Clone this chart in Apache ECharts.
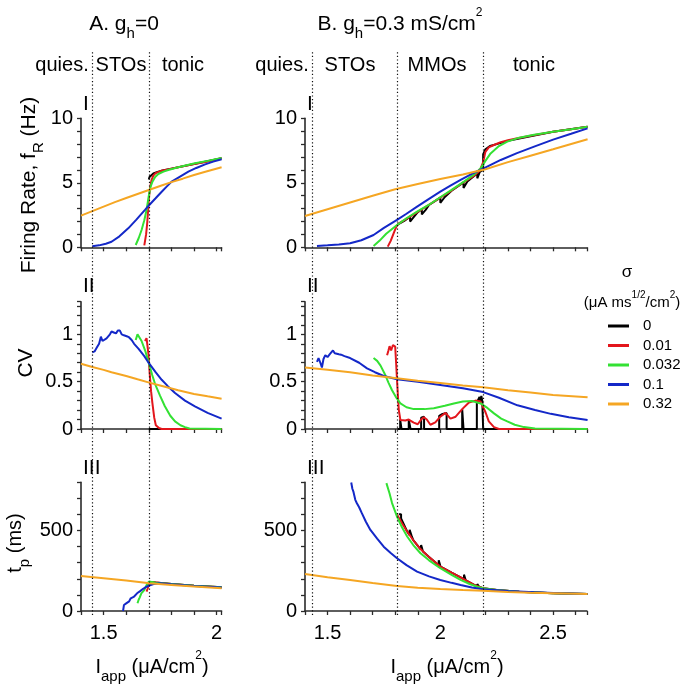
<!DOCTYPE html>
<html><head><meta charset="utf-8">
<script src="https://cdn.jsdelivr.net/npm/echarts@6/dist/echarts.min.js"></script>
<style>html,body{margin:0;padding:0;background:#fff}#c{width:687px;height:688px}</style>
</head><body><div id="c"></div><script>
// ---------- legend / series names ----------
const sigmaLabels = ['0', '0.01', '0.032', '0.1', '0.32'];

// ---------- tick labels (values shown) and tick steps ----------
const xLabelsA = [1.5, 2];
const xLabelsB = [1.5, 2, 2.5];
const yLabelsFR = [0, 5, 10];
const yLabelsCV = [0, 0.5, 1];
const yLabelsTP = [0, 500];
const xTickStep = 0.1;
const yTickStepFR = 1, yTickStepCV = 0.1, yTickStepTP = 100;

// regime boundaries (dotted lines)
const boundsA = [1.447, 1.702];
const boundsB = [1.425, 1.808, 2.19];

// ---------- A (g_h = 0) : I firing rate ----------
const A1_black = [[1.700,5.25],[1.703,5.45],[1.71,5.6],[1.72,5.72],[1.735,5.82],[1.76,5.95],[1.8,6.1],[1.9,6.45],[2.022,6.9]];
const A1_red = [[1.680,0.15],[1.688,1.0],[1.693,1.9],[1.697,2.9],[1.701,3.9],[1.706,4.7],[1.712,5.2],[1.72,5.55],[1.73,5.75],[1.757,5.94],[1.8,6.1],[1.83,6.2],[1.9,6.45],[1.95,6.62],[2.022,6.9]];
const A1_green = [[1.642,0.18],[1.655,0.7],[1.668,1.34],[1.68,2.1],[1.69,2.89],[1.70,4.0],[1.708,4.7],[1.716,5.09],[1.728,5.45],[1.742,5.68],[1.765,5.87],[1.786,5.99],[1.83,6.2],[1.904,6.51],[1.96,6.7],[2.022,6.92]];
const A1_blue = [[1.45,0.08],[1.48,0.15],[1.51,0.28],[1.535,0.43],[1.57,0.85],[1.609,1.47],[1.645,2.15],[1.683,2.9],[1.702,3.28],[1.73,3.8],[1.757,4.31],[1.78,4.72],[1.801,5.09],[1.84,5.5],[1.875,5.86],[1.91,6.15],[1.949,6.43],[1.985,6.64],[2.022,6.82]];
const A1_orange = [[1.4,2.45],[1.45,2.8],[1.5,3.15],[1.55,3.5],[1.6,3.82],[1.65,4.13],[1.7,4.44],[1.75,4.75],[1.8,5.05],[1.85,5.32],[1.9,5.6],[1.95,5.85],[2.022,6.2]];

// ---------- A : II CV ----------
const A2_black = [[1.70,0],[2.022,0]];
const A2_red = [[1.683,0.93],[1.69,0.96],[1.694,0.88],[1.698,0.8],[1.705,0.55],[1.71,0.4],[1.716,0.27],[1.724,0.12],[1.731,0.04],[1.745,0.01],[1.757,0],[2.022,0]];
const A2_green = [[1.642,0.94],[1.65,1.0],[1.658,0.97],[1.668,0.93],[1.685,0.82],[1.702,0.68],[1.715,0.57],[1.727,0.48],[1.75,0.35],[1.771,0.24],[1.795,0.14],[1.816,0.08],[1.84,0.04],[1.86,0.02],[1.88,0.005],[2.022,0]];
const A2_blue = [[1.45,0.81],[1.46,0.82],[1.47,0.86],[1.48,0.9],[1.488,0.975],[1.495,0.93],[1.503,0.92],[1.513,0.958],[1.52,0.97],[1.528,1.0],[1.535,1.03],[1.545,1.02],[1.555,1.01],[1.563,1.04],[1.572,1.04],[1.58,1.0],[1.59,0.99],[1.602,0.98],[1.612,0.97],[1.624,0.94],[1.635,0.9],[1.654,0.85],[1.68,0.77],[1.702,0.69],[1.73,0.6],[1.757,0.52],[1.785,0.45],[1.816,0.38],[1.86,0.3],[1.904,0.24],[1.96,0.17],[2.022,0.11]];
const A2_orange = [[1.4,0.69],[1.45,0.655],[1.5,0.625],[1.535,0.6],[1.6,0.56],[1.65,0.525],[1.702,0.49],[1.75,0.46],[1.83,0.41],[1.9,0.37],[1.96,0.345],[2.022,0.32]];

// ---------- A : III t_p ----------
const A3_black = [[1.70,150],[1.70,182],[1.71,180],[1.73,177],[1.8,168],[1.9,157],[2.022,147]];
const A3_red = [[1.69,120],[1.695,140],[1.70,168],[1.71,178],[1.73,177],[1.8,168],[1.9,157],[2.022,147]];
const A3_green = [[1.65,48],[1.655,70],[1.66,85],[1.667,110],[1.672,105],[1.68,130],[1.69,161],[1.7,182],[1.715,180],[1.73,176],[1.8,168],[1.9,157],[2.022,147]];
const A3_blue = [[1.586,0],[1.59,37],[1.595,30],[1.6,47],[1.607,40],[1.613,60],[1.62,79],[1.628,75],[1.635,90],[1.648,110],[1.66,122],[1.675,138],[1.69,151],[1.705,160],[1.721,168],[1.75,172],[1.8,166],[1.9,156],[2.022,146]];
const A3_orange = [[1.4,218],[1.5,204],[1.6,190],[1.703,172],[1.8,162],[1.9,152],[2.022,141]];

// ---------- B (g_h = 0.3) : I firing rate ----------
const B1_black = [[1.81,1.75],[1.84,2.05],[1.866,2.38],[1.866,2.0],[1.88,2.3],[1.9,2.72],[1.918,2.95],[1.918,2.55],[1.935,2.9],[1.95,3.28],[2.0,3.85],[2.0,3.45],[2.02,3.9],[2.05,4.38],[2.103,5.03],[2.103,4.6],[2.12,5.1],[2.15,5.52],[2.164,5.75],[2.164,5.35],[2.175,5.85],[2.19,6.0],[2.19,7.2],[2.2,7.6],[2.22,7.85],[2.25,8.0],[2.3,8.25],[2.4,8.6],[2.5,8.95],[2.653,9.35]];
const B1_red = [[1.767,0.05],[1.78,0.5],[1.793,1.08],[1.805,1.6],[1.816,1.86],[1.85,2.2],[1.9,2.75],[1.95,3.3],[2.0,3.85],[2.05,4.4],[2.1,5.0],[2.15,5.55],[2.175,5.95],[2.19,6.6],[2.2,7.4],[2.215,7.75],[2.24,7.95],[2.268,8.15],[2.3,8.3],[2.342,8.45],[2.4,8.65],[2.5,8.95],[2.58,9.15],[2.653,9.35]];
const B1_green = [[1.704,0.1],[1.73,0.5],[1.76,1.05],[1.808,1.73],[1.85,2.25],[1.897,2.76],[1.95,3.3],[2.0,3.88],[2.05,4.45],[2.105,5.09],[2.15,5.65],[2.179,6.12],[2.2,6.7],[2.223,7.28],[2.26,7.85],[2.297,8.19],[2.35,8.5],[2.416,8.72],[2.5,8.95],[2.58,9.15],[2.653,9.35]];
const B1_blue = [[1.453,0.1],[1.5,0.15],[1.55,0.22],[1.6,0.31],[1.65,0.55],[1.704,0.95],[1.75,1.5],[1.808,2.12],[1.85,2.6],[1.897,3.15],[1.95,3.75],[2.0,4.31],[2.045,4.78],[2.09,5.22],[2.14,5.7],[2.19,6.1],[2.23,6.45],[2.268,6.77],[2.34,7.3],[2.416,7.8],[2.5,8.35],[2.58,8.8],[2.653,9.22]];
const B1_orange = [[1.4,2.43],[1.5,2.95],[1.6,3.47],[1.7,3.99],[1.8,4.5],[1.9,4.9],[2.0,5.3],[2.1,5.65],[2.2,6.05],[2.3,6.6],[2.4,7.1],[2.5,7.6],[2.653,8.37]];

// ---------- B : II CV ----------
const B2_black = [[1.81,0],[1.822,0],[1.822,0.1],[1.828,0.1],[1.828,0],[1.86,0],[1.86,0.1],[1.868,0.11],[1.868,0],[1.915,0],[1.915,0.12],[1.928,0.13],[1.928,0],[1.995,0],[1.995,0.14],[2.01,0.16],[2.028,0.17],[2.028,0],[2.097,0],[2.097,0.21],[2.103,0.21],[2.103,0],[2.162,0],[2.162,0.28],[2.168,0.3],[2.174,0.34],[2.178,0.29],[2.182,0.35],[2.186,0.3],[2.19,0.28],[2.19,0],[2.653,0]];
const B2_red = [[1.764,0.78],[1.77,0.83],[1.775,0.875],[1.782,0.83],[1.79,0.887],[1.8,0.87],[1.804,0.7],[1.808,0.52],[1.812,0.35],[1.816,0.2],[1.823,0.095],[1.845,0.09],[1.86,0.1],[1.882,0.067],[1.9,0.05],[1.915,0.1],[1.927,0.124],[1.94,0.1],[1.956,0.045],[1.978,0.07],[2.0,0.13],[2.023,0.17],[2.045,0.11],[2.068,0.13],[2.097,0.21],[2.127,0.28],[2.156,0.3],[2.178,0.29],[2.2,0.18],[2.215,0.08],[2.238,0.02],[2.26,0],[2.653,0]];
const B2_green = [[1.704,0.75],[1.72,0.72],[1.735,0.67],[1.756,0.57],[1.77,0.49],[1.786,0.41],[1.805,0.33],[1.823,0.27],[1.85,0.23],[1.882,0.21],[1.93,0.21],[1.971,0.22],[2.02,0.245],[2.06,0.27],[2.1,0.29],[2.14,0.295],[2.179,0.27],[2.21,0.22],[2.238,0.165],[2.27,0.11],[2.297,0.08],[2.33,0.045],[2.371,0.02],[2.42,0.005],[2.653,0]];
const B2_blue = [[1.453,0.71],[1.46,0.75],[1.468,0.7],[1.475,0.65],[1.482,0.74],[1.49,0.78],[1.5,0.76],[1.51,0.79],[1.518,0.81],[1.524,0.83],[1.532,0.8],[1.54,0.81],[1.55,0.79],[1.56,0.785],[1.575,0.77],[1.6,0.75],[1.64,0.7],[1.675,0.64],[1.71,0.6],[1.749,0.56],[1.808,0.525],[1.9,0.5],[2.0,0.465],[2.1,0.43],[2.19,0.39],[2.26,0.33],[2.342,0.25],[2.42,0.2],[2.49,0.16],[2.57,0.125],[2.653,0.095]];
const B2_orange = [[1.4,0.65],[1.5,0.625],[1.6,0.6],[1.7,0.565],[1.808,0.535],[1.9,0.51],[2.0,0.485],[2.1,0.46],[2.19,0.44],[2.3,0.41],[2.4,0.385],[2.5,0.36],[2.653,0.335]];

// ---------- B : III t_p ----------
const B3_black = [[1.816,602],[1.826,602],[1.826,575],[1.853,494],[1.864,472],[1.864,505],[1.872,505],[1.872,470],[1.88,440],[1.912,385],[1.915,381],[1.915,410],[1.923,410],[1.923,370],[1.95,335],[1.993,284],[1.993,315],[2.001,315],[2.001,276],[2.05,238],[2.09,209],[2.105,197],[2.105,226],[2.113,226],[2.113,190],[2.15,162],[2.164,153],[2.164,168],[2.172,168],[2.172,150],[2.19,142],[2.25,130],[2.35,120],[2.5,111],[2.653,106]];
const B3_red = [[1.808,600],[1.83,545],[1.853,494],[1.88,440],[1.912,385],[1.95,335],[2.0,276],[2.05,238],[2.09,209],[2.12,185],[2.15,162],[2.19,142],[2.25,130],[2.35,120],[2.5,111],[2.653,106]];
const B3_green = [[1.761,795],[1.775,730],[1.786,671],[1.808,587],[1.83,520],[1.853,463],[1.88,410],[1.912,359],[1.95,315],[2.0,266],[2.05,225],[2.09,193],[2.13,168],[2.164,151],[2.19,141],[2.25,130],[2.35,120],[2.5,111],[2.653,106]];
const B3_blue = [[1.605,799],[1.61,760],[1.615,740],[1.623,691],[1.63,670],[1.64,645],[1.652,608],[1.67,555],[1.69,504],[1.72,450],[1.749,400],[1.78,360],[1.808,328],[1.85,285],[1.897,245],[1.95,215],[2.0,193],[2.05,175],[2.09,162],[2.14,146],[2.19,135],[2.3,125],[2.416,117],[2.53,111],[2.653,106]];
const B3_orange = [[1.4,230],[1.5,210],[1.6,193],[1.7,174],[1.808,156],[1.9,145],[2.0,137],[2.1,131],[2.19,126],[2.3,118],[2.4,113],[2.5,110],[2.653,106]];

// ---------- styling ----------
const FONT = '"Liberation Sans", Arial, sans-serif';
const COLORS = ['#000000', '#e3161c', '#33e133', '#1428c8', '#f5a623'];

const panels = [
  {data: [A1_black, A1_red, A1_green, A1_blue, A1_orange], col: 0, row: 0},
  {data: [A2_black, A2_red, A2_green, A2_blue, A2_orange], col: 0, row: 1},
  {data: [A3_black, A3_red, A3_green, A3_blue, A3_orange], col: 0, row: 2},
  {data: [B1_black, B1_red, B1_green, B1_blue, B1_orange], col: 1, row: 0},
  {data: [B2_black, B2_red, B2_green, B2_blue, B2_orange], col: 1, row: 1},
  {data: [B3_black, B3_red, B3_green, B3_blue, B3_orange], col: 1, row: 2}
];
const colGeom = [{left: 81, width: 140.6, min: 1.4, max: 2.022, labels: xLabelsA, bounds: boundsA},
                 {left: 305, width: 281.9, min: 1.4, max: 2.65, labels: xLabelsB, bounds: boundsB}];
const rowGeom = [{top: 118.3, height: 129, min: 0, max: 10, labels: yLabelsFR, step: yTickStepFR},
                 {top: 301.7, height: 127.3, min: 0, max: 1.345, labels: yLabelsCV, step: yTickStepCV},
                 {top: 482.3, height: 128.7, min: 0, max: 800, labels: yLabelsTP, step: yTickStepTP}];

function labelFmt(list) {
  return function (v) {
    for (const m of list) { if (Math.abs(m - v) < 1e-6) return String(m); }
    return '';
  };
}

const grid = [], xAxis = [], yAxis = [], series = [];
const AX = '#2a2a2a';
panels.forEach((p, i) => {
  const c = colGeom[p.col], r = rowGeom[p.row];
  grid.push({left: c.left, top: r.top, width: c.width, height: r.height});
  xAxis.push({type: 'value', gridIndex: i, min: c.min, max: c.max, interval: xTickStep,
    axisLine: {show: true, onZero: false, lineStyle: {color: AX, width: 1.6}},
    axisTick: {show: true, length: 4, lineStyle: {color: AX, width: 1.3}},
    axisLabel: {show: p.row === 2, formatter: labelFmt(c.labels), showMinLabel: true, showMaxLabel: true,
      margin: 12, fontSize: 20, fontFamily: FONT, color: '#000'},
    splitLine: {show: false}});
  yAxis.push({type: 'value', gridIndex: i, min: r.min, max: r.max, interval: r.step,
    axisLine: {show: true, onZero: false, lineStyle: {color: AX, width: 1.6}},
    axisTick: {show: true, length: 4, lineStyle: {color: AX, width: 1.3}},
    axisLabel: {show: true, formatter: labelFmt(r.labels), showMinLabel: true, showMaxLabel: true,
      margin: 8, fontSize: 20, fontFamily: FONT, color: '#000'},
    splitLine: {show: false}});
  p.data.forEach((d, k) => {
    series.push({type: 'line', name: sigmaLabels[k], xAxisIndex: i, yAxisIndex: i,
      data: d, showSymbol: false, symbol: 'none', clip: true, color: COLORS[k],
      lineStyle: {color: COLORS[k], width: 2}, z: 3, silent: true, animation: false});
  });
});
// overlay grids for the dotted regime boundaries spanning all rows
colGeom.forEach((c, j) => {
  const gi = grid.length;
  grid.push({left: c.left, top: 51, width: c.width, height: 564});
  xAxis.push({type: 'value', gridIndex: gi, min: c.min, max: c.max, show: false});
  yAxis.push({type: 'value', gridIndex: gi, min: 0, max: 1, show: false});
  series.push({type: 'line', name: 'bounds' + j, xAxisIndex: xAxis.length - 1, yAxisIndex: yAxis.length - 1,
    data: [[c.min, -5]], showSymbol: false, lineStyle: {opacity: 0}, z: 1, silent: true, animation: false,
    markLine: {silent: true, symbol: 'none', animation: false, label: {show: false},
      lineStyle: {color: '#111', width: 1.2, type: [1.2, 2.4]},
      data: c.bounds.map(v => ({xAxis: v}))}});
});

const rich = {
  n: {fontSize: 21, fontFamily: FONT, lineHeight: 34, fill: '#000'},
  s: {fontSize: 15, fontFamily: FONT, lineHeight: 15, verticalAlign: 'bottom', fill: '#000'},
  p: {fontSize: 12, fontFamily: FONT, lineHeight: 12, verticalAlign: 'top', fill: '#000'},
  r: {fontSize: 20, fontFamily: FONT, lineHeight: 34, fill: '#000'},
  m: {fontSize: 15, fontFamily: FONT, lineHeight: 26, fill: '#000'},
  q: {fontSize: 10, fontFamily: FONT, lineHeight: 10, verticalAlign: 'top', fill: '#000'}
};
function txt(x, y, text, opts) {
  return Object.assign({type: 'text', x: x, y: y, silent: true, z: 10,
    style: Object.assign({text: text, rich: rich, align: 'center', verticalAlign: 'middle',
      fontSize: 20, fontFamily: FONT, fill: '#000'}, (opts && opts.style) || {})}, (opts && opts.el) || {});
}
const graphics = [
  txt(124, 24, '{n|A. g}{s|h}{n|=0}'),
  txt(400, 24, '{n|B. g}{s|h}{n|=0.3 mS/cm}{p|2}'),
  txt(62, 65, 'quies.'), txt(121, 65, 'STOs'), txt(183, 65, 'tonic'),
  txt(282, 65, 'quies.'), txt(350, 65, 'STOs'), txt(437, 65, 'MMOs'), txt(534, 65, 'tonic'),
  txt(83, 104.5, 'I', {style: {align: 'left', fontSize: 21}}), txt(83, 286.7, 'II', {style: {align: 'left', fontSize: 21}}), txt(83, 468, 'III', {style: {align: 'left', fontSize: 21}}),
  txt(307, 104.5, 'I', {style: {align: 'left', fontSize: 21}}), txt(307, 286.7, 'II', {style: {align: 'left', fontSize: 21}}), txt(307, 468, 'III', {style: {align: 'left', fontSize: 21}}),
  txt(29.5, 185, '{n|Firing Rate, f}{s|R}{n| (Hz)}', {el: {rotation: Math.PI / 2}}),
  txt(26, 363, 'CV', {el: {rotation: Math.PI / 2}, style: {fontSize: 21}}),
  txt(15, 543, '{r|t}{s|p}{r| (ms)}', {el: {rotation: Math.PI / 2}}),
  txt(152, 667, '{r|I}{s|app}{r| (μA/cm}{p|2}{r|)}'),
  txt(447, 667, '{r|I}{s|app}{r| (μA/cm}{p|2}{r|)}'),
  txt(627, 272, 'σ', {style: {fontSize: 17}}),
  txt(632, 303, '{m|(μA ms}{q|1/2}{m|/cm}{q|2}{m|)}')
];

const option = {
  backgroundColor: '#fff',
  animation: false,
  grid: grid, xAxis: xAxis, yAxis: yAxis, series: series,
  legend: {data: sigmaLabels, orient: 'vertical', left: 608, top: 316.25, padding: 0, itemGap: 0,
    itemWidth: 21, itemHeight: 3, icon: 'rect', selectedMode: false,
    textStyle: {fontSize: 15, fontFamily: FONT, color: '#000', lineHeight: 19.5, padding: [0, 0, 0, 9]}},
  graphic: graphics
};
const chart = echarts.init(document.getElementById('c'), null, {renderer: 'canvas'});
chart.setOption(option);
</script></body></html>
